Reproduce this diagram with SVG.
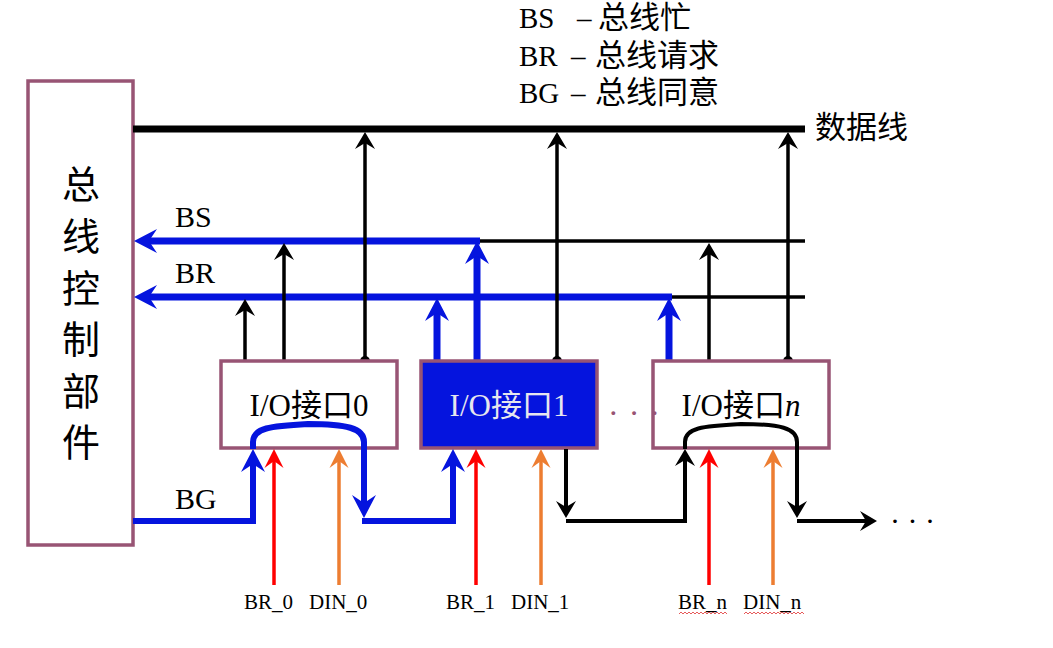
<svg xmlns="http://www.w3.org/2000/svg" width="1053" height="648" viewBox="0 0 1053 648">
<style>
.t{font-family:"Liberation Serif","Noto Sans CJK SC",serif;fill:#000}
.cjk{font-family:"Noto Sans CJK SC","Liberation Sans",sans-serif;fill:#000}
.box{fill:#fff;stroke:#985474;stroke-width:3.5}
.bk{stroke:#000;stroke-width:3.5;fill:none}
.bl{stroke:#0514DE;stroke-width:7;fill:none}
.bg{stroke:#0514DE;stroke-width:6;fill:none}
.rd{stroke:#FF0000;stroke-width:3.5;fill:none}
.or{stroke:#ED7D31;stroke-width:3.5;fill:none}
</style>
<defs>
<marker id="ak" markerUnits="userSpaceOnUse" viewBox="-19 -11 21 22" markerWidth="21" markerHeight="22" refX="-8" refY="0" orient="auto"><path d="M0,0 L-17,-10 L-11,0 L-17,10 Z" fill="#000"/></marker>
<marker id="ab" markerUnits="userSpaceOnUse" viewBox="-25 -13 27 26" markerWidth="27" markerHeight="26" refX="-10" refY="0" orient="auto"><path d="M0,0 L-23,-12 L-15,0 L-23,12 Z" fill="#0514DE"/></marker>
<marker id="ar" markerUnits="userSpaceOnUse" viewBox="-20 -11 22 22" markerWidth="22" markerHeight="22" refX="-8" refY="0" orient="auto"><path d="M0,0 L-19,-9.5 L-12,0 L-19,9.5 Z" fill="#FF0000"/></marker>
<marker id="ao" markerUnits="userSpaceOnUse" viewBox="-20 -11 22 22" markerWidth="22" markerHeight="22" refX="-8" refY="0" orient="auto"><path d="M0,0 L-19,-9.5 L-12,0 L-19,9.5 Z" fill="#ED7D31"/></marker>
</defs>
<rect width="1053" height="648" fill="#fff"/>

<g id="legend">
<text class="t" font-size="29" y="28"><tspan x="519">BS</tspan><tspan x="577">–</tspan><tspan x="598" font-size="31">总线忙</tspan></text>
<text class="t" font-size="29" y="66"><tspan x="519">BR</tspan><tspan x="571">–</tspan><tspan x="595" font-size="31">总线请求</tspan></text>
<text class="t" font-size="29" y="103"><tspan x="519">BG</tspan><tspan x="571">–</tspan><tspan x="595" font-size="31">总线同意</tspan></text>
</g>

<g id="controller">
<rect class="box" x="28" y="81" width="105" height="464"/>
<text class="cjk" font-size="38" text-anchor="middle" x="81" y="198">总</text>
<text class="cjk" font-size="38" text-anchor="middle" x="81" y="250">线</text>
<text class="cjk" font-size="38" text-anchor="middle" x="81" y="302">控</text>
<text class="cjk" font-size="38" text-anchor="middle" x="81" y="353">制</text>
<text class="cjk" font-size="38" text-anchor="middle" x="81" y="405">部</text>
<text class="cjk" font-size="38" text-anchor="middle" x="81" y="456">件</text>
</g>

<g id="connectors">
<line x1="133" y1="129" x2="805" y2="129" stroke="#000" stroke-width="7"/>
<line class="bk" x1="477" y1="241" x2="805" y2="241"/>
<line class="bk" x1="669" y1="297" x2="805" y2="297"/>
<line class="bl" x1="480" y1="241" x2="144" y2="241" marker-end="url(#ab)"/>
<line class="bl" x1="672" y1="297" x2="144" y2="297" marker-end="url(#ab)"/>
<line class="bk" x1="365" y1="361" x2="365" y2="140" marker-end="url(#ak)"/>
<line class="bk" x1="557" y1="361" x2="557" y2="140" marker-end="url(#ak)"/>
<line class="bk" x1="788" y1="361" x2="788" y2="140" marker-end="url(#ak)"/>
<circle cx="365" cy="361" r="5" fill="#000"/>
<circle cx="557" cy="361" r="5" fill="#000"/>
<circle cx="788" cy="361" r="5" fill="#000"/>
<line class="bk" x1="245" y1="361" x2="245" y2="307" marker-end="url(#ak)"/>
<line class="bk" x1="284" y1="361" x2="284" y2="251" marker-end="url(#ak)"/>
<line class="bl" x1="437" y1="361" x2="437" y2="308" marker-end="url(#ab)"/>
<line class="bl" x1="477" y1="361" x2="477" y2="251" marker-end="url(#ab)"/>
<line class="bl" x1="669" y1="361" x2="669" y2="308" marker-end="url(#ab)"/>
<line class="bk" x1="709" y1="361" x2="709" y2="251" marker-end="url(#ak)"/>
</g>

<g id="io0">
<rect class="box" x="221" y="361" width="176" height="87"/>
<text class="t" font-size="31" text-anchor="middle" x="309" y="416">I/O接口0</text>
</g>
<g id="io1">
<rect x="421" y="361" width="176" height="87" fill="#0514DE" stroke="#985474" stroke-width="3.5"/>
<text class="t" font-size="31" text-anchor="middle" x="509" y="416" style="fill:#E6E6EE">I/O接口1</text>
</g>
<g id="ion">
<rect class="box" x="653" y="361" width="176" height="87"/>
<text class="t" font-size="31" text-anchor="middle" x="741" y="416">I/O接口<tspan font-style="italic">n</tspan></text>
</g>
<text class="t" font-size="32" x="608" y="424" style="fill:#985474" letter-spacing="1">· · ·</text>

<g id="bg-chain">
<path class="bg" d="M133,521 H253 V459" marker-end="url(#ab)"/>
<path class="bg" d="M253,449 V442 C253,428 270,426 308,424 C346,424 364,428 364,442 V508" marker-end="url(#ab)"/>
<path class="bg" d="M362,521 H453 V459" marker-end="url(#ab)"/>
<path class="bk" style="stroke-width:4" d="M566,449 V510" marker-end="url(#ak)"/>
<path class="bk" style="stroke-width:4" d="M566,521 H685 V457" marker-end="url(#ak)"/>
<path class="bk" style="stroke-width:4" d="M685,449 V442 C685,428 702,426 741,424 C780,424 797,428 797,442 V510" marker-end="url(#ak)"/>
<path class="bk" style="stroke-width:4" d="M797,521 H869" marker-end="url(#ak)"/>
</g>
<text class="t" font-size="30" x="890" y="531" letter-spacing="0">· · ·</text>

<g id="inputs">
<line class="rd" x1="274" y1="585" x2="274" y2="457" marker-end="url(#ar)"/>
<line class="or" x1="339" y1="585" x2="339" y2="457" marker-end="url(#ao)"/>
<line class="rd" x1="476" y1="585" x2="476" y2="457" marker-end="url(#ar)"/>
<line class="or" x1="541" y1="585" x2="541" y2="457" marker-end="url(#ao)"/>
<line class="rd" x1="709" y1="585" x2="709" y2="457" marker-end="url(#ar)"/>
<line class="or" x1="773" y1="585" x2="773" y2="457" marker-end="url(#ao)"/>
</g>

<g id="labels">
<text class="t" font-size="30" x="175" y="227">BS</text>
<text class="t" font-size="30" x="175" y="283">BR</text>
<text class="t" font-size="30" x="175" y="509">BG</text>
<text class="t" font-size="31" x="815" y="138">数据线</text>
<text class="t" font-size="21" x="244" y="609">BR_0</text>
<text class="t" font-size="21" x="309" y="609">DIN_0</text>
<text class="t" font-size="21" x="446" y="609">BR_1</text>
<text class="t" font-size="21" x="511" y="609">DIN_1</text>
<text class="t" font-size="21" x="678" y="609">BR_n</text>
<text class="t" font-size="21" x="743" y="609">DIN_n</text>
<path d="M679,614 l2,-2 l2,2 l2,-2 l2,2 l2,-2 l2,2 l2,-2 l2,2 l2,-2 l2,2 l2,-2 l2,2 l2,-2 l2,2 l2,-2 l2,2 l2,-2 l2,2 l2,-2 l2,2 l2,-2 l2,2 l2,-2 l2,2 M744,614 l2,-2 l2,2 l2,-2 l2,2 l2,-2 l2,2 l2,-2 l2,2 l2,-2 l2,2 l2,-2 l2,2 l2,-2 l2,2 l2,-2 l2,2 l2,-2 l2,2 l2,-2 l2,2 l2,-2 l2,2 l2,-2 l2,2 l2,-2 l2,2 l2,-2 l2,2 l2,-2 l2,2" fill="none" stroke="#E03030" stroke-width="0.8"/>
</g>
</svg>
